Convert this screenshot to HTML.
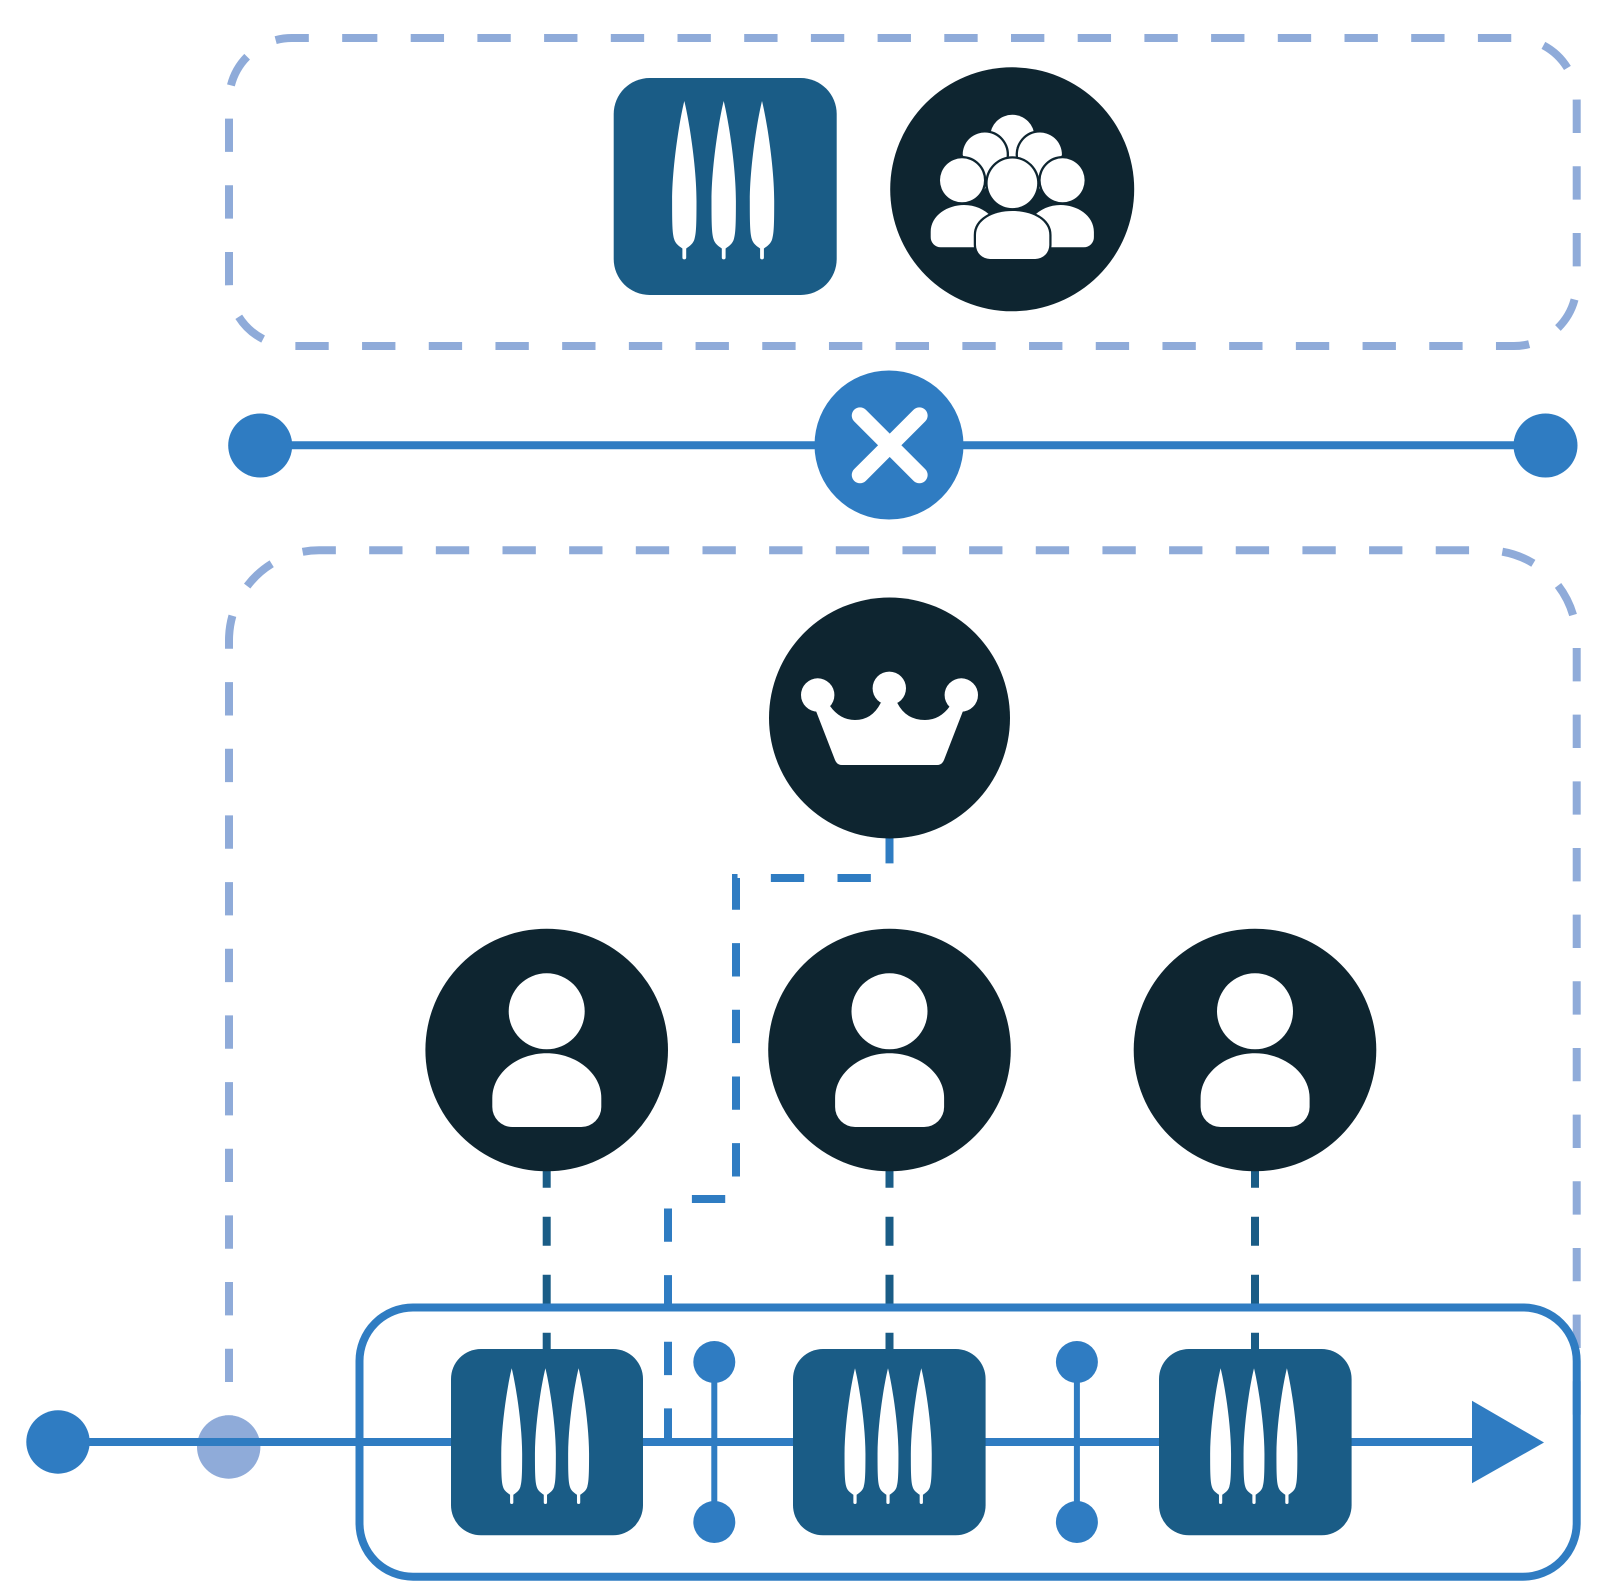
<!DOCTYPE html>
<html>
<head>
<meta charset="utf-8">
<title>Diagram</title>
<style>
html,body{margin:0;padding:0;background:#fff}
svg{display:block}
</style>
</head>
<body>
<svg xmlns="http://www.w3.org/2000/svg" xmlns:xlink="http://www.w3.org/1999/xlink" width="1606" height="1596" viewBox="0 0 1606 1596">
<defs>
<path id="leaf" d="M0 0C4.5 18 12.2 65 12.2 100C12.2 122 12 132 10.2 138C9 142.5 5.5 145 1.9 147.5V156.5a1.9 1.9 0 0 1-3.8 0V147.5C-5.5 145-9 142.5-10.2 138C-12 132-12.2 122-12.2 100C-12.2 65-4.5 18 0 0Z" fill="#fff"/>
<g id="person">
<circle cx="0" cy="0" r="121.3" fill="#0e2530"/>
<circle cx="0" cy="-38.7" r="38" fill="#fff"/>
<path d="M-54.4 57V48C-54.4 23-29 3.3 0 3.3C29 3.3 54.6 23 54.6 48V57A20 20 0 0 1 34.6 77H-34.4A20 20 0 0 1-54.4 57Z" fill="#fff"/>
</g>
</defs>
<rect width="1606" height="1596" fill="#fff"/>

<!-- dashed containers -->
<path d="M344 38H1513.9A62.8 62.8 0 0 1 1576.7 100.8V283.2A62.8 62.8 0 0 1 1513.9 346H291.8A62.8 62.8 0 0 1 229 283.2V100.8A62.8 62.8 0 0 1 291.8 38Z" fill="none" stroke="#8fabd9" stroke-width="8" stroke-dasharray="33.35 33.35"/>
<path d="M229 1448.7V640.3A90 90 0 0 1 319 550.3H1486.7A90 90 0 0 1 1576.7 640.3V1442" fill="none" stroke="#8fabd9" stroke-width="8" stroke-dasharray="33.33 33.33"/>

<!-- top block -->
<rect x="613.7" y="78" width="223" height="217" rx="36" fill="#1a5c86"/>
<use xlink:href="#leaf" x="684.3" y="101"/>
<use xlink:href="#leaf" x="723.7" y="101"/>
<use xlink:href="#leaf" x="762" y="101"/>

<circle cx="1012.2" cy="189.3" r="122" fill="#0e2530"/>
<g fill="#fff" stroke="#0e2530" stroke-width="4.5" style="paint-order:stroke">
<circle cx="1012.3" cy="137" r="22.2"/>
<path d="M962.7 155A22 22 0 1 1 1006 160L984 190Z"/>
<path d="M1061.9 155A22 22 0 1 0 1018.6 160L1040.6 190Z"/>
<circle cx="962" cy="180.3" r="22"/>
<circle cx="1062.6" cy="180.3" r="22"/>
<circle cx="1012.4" cy="183.3" r="24.8"/>
<path d="M930.7 237V232C930.7 215 948 205 964 205C975 205 984 209 992 217V247.3H940.7A10 10 0 0 1 930.7 237Z"/>
<path d="M1093.9 237V232C1093.9 215 1076.6 205 1060.6 205C1049.6 205 1040.6 209 1032.6 217V247.3H1083.9A10 10 0 0 0 1093.9 237Z"/>
<path d="M976 245V235C976 220 993 211 1012.5 211C1032 211 1049.3 220 1049.3 235V245A14 14 0 0 1 1035.3 259H990A14 14 0 0 1 976 245Z"/>
</g>

<!-- gateway line -->
<line x1="260" y1="445.3" x2="1545" y2="445.3" stroke="#2f7cc2" stroke-width="8"/>
<circle cx="260.2" cy="445.5" r="32" fill="#2f7cc2"/>
<circle cx="1545.5" cy="445.5" r="32" fill="#2f7cc2"/>
<circle cx="889" cy="445" r="74.5" fill="#2f7cc2"/>
<path d="M860 415.6L919.4 475M919.4 415.6L860 475" stroke="#fff" stroke-width="16.5" stroke-linecap="round" fill="none"/>

<!-- connectors -->
<path d="M889.5 830V878H736V1199H668V1441" fill="none" stroke="#2f7cc2" stroke-width="8" stroke-dasharray="33.33 33.33"/>
<path d="M546.7 1158.7V1349" fill="none" stroke="#1a5c86" stroke-width="8" stroke-dasharray="29 29"/>
<path d="M889.5 1158.7V1349" fill="none" stroke="#1a5c86" stroke-width="8" stroke-dasharray="29 29"/>
<path d="M1255 1158.7V1349" fill="none" stroke="#1a5c86" stroke-width="8" stroke-dasharray="29 29"/>

<!-- crown -->
<circle cx="889.5" cy="718" r="120.5" fill="#0e2530"/>
<g fill="#fff">
<circle cx="817.7" cy="695" r="16.7"/>
<circle cx="889.3" cy="688.3" r="16.7"/>
<circle cx="961.3" cy="695" r="16.7"/>
<path d="M816 711L835 760Q837 765 842 765H937Q942 765 944 760L963 711L950 706Q940 720 925 720Q906 720 897.3 703L889 698L880.7 703Q872 720 855 720Q840 720 830 706Z"/>
</g>

<!-- persons -->
<use xlink:href="#person" x="546.7" y="1050"/>
<use xlink:href="#person" x="889.5" y="1050"/>
<use xlink:href="#person" x="1255" y="1050"/>

<!-- main flow -->
<circle cx="228.7" cy="1447" r="31.7" fill="#8fabd9"/>
<line x1="88" y1="1442" x2="1475" y2="1442" stroke="#2f7cc2" stroke-width="8"/>
<circle cx="58" cy="1442" r="31.7" fill="#2f7cc2"/>
<path d="M1472 1400.7L1544 1442.5L1472 1483.3Z" fill="#2f7cc2"/>

<rect x="359.5" y="1307.5" width="1217.2" height="269.2" rx="53.5" fill="none" stroke="#2f7cc2" stroke-width="8"/>

<rect x="451" y="1349" width="192" height="186.3" rx="30" fill="#1a5c86"/>
<rect x="793" y="1349" width="192.6" height="186.3" rx="30" fill="#1a5c86"/>
<rect x="1159" y="1349" width="192.6" height="186.3" rx="30" fill="#1a5c86"/>

<g transform="translate(511.7 1368.3) scale(.857)"><use xlink:href="#leaf"/></g>
<g transform="translate(545.4 1368.3) scale(.857)"><use xlink:href="#leaf"/></g>
<g transform="translate(578.6 1368.3) scale(.857)"><use xlink:href="#leaf"/></g>
<g transform="translate(855 1368.3) scale(.857)"><use xlink:href="#leaf"/></g>
<g transform="translate(888 1368.3) scale(.857)"><use xlink:href="#leaf"/></g>
<g transform="translate(921.3 1368.3) scale(.857)"><use xlink:href="#leaf"/></g>
<g transform="translate(1220.6 1368.3) scale(.857)"><use xlink:href="#leaf"/></g>
<g transform="translate(1254 1368.3) scale(.857)"><use xlink:href="#leaf"/></g>
<g transform="translate(1286.9 1368.3) scale(.857)"><use xlink:href="#leaf"/></g>

<!-- small vertical links -->
<line x1="714.3" y1="1362" x2="714.3" y2="1522" stroke="#2f7cc2" stroke-width="6"/>
<circle cx="714.3" cy="1362" r="21" fill="#2f7cc2"/>
<circle cx="714.3" cy="1522" r="21" fill="#2f7cc2"/>
<line x1="1076.9" y1="1362" x2="1076.9" y2="1522" stroke="#2f7cc2" stroke-width="6"/>
<circle cx="1076.9" cy="1362" r="21" fill="#2f7cc2"/>
<circle cx="1076.9" cy="1522" r="21" fill="#2f7cc2"/>
</svg>
</body>
</html>
